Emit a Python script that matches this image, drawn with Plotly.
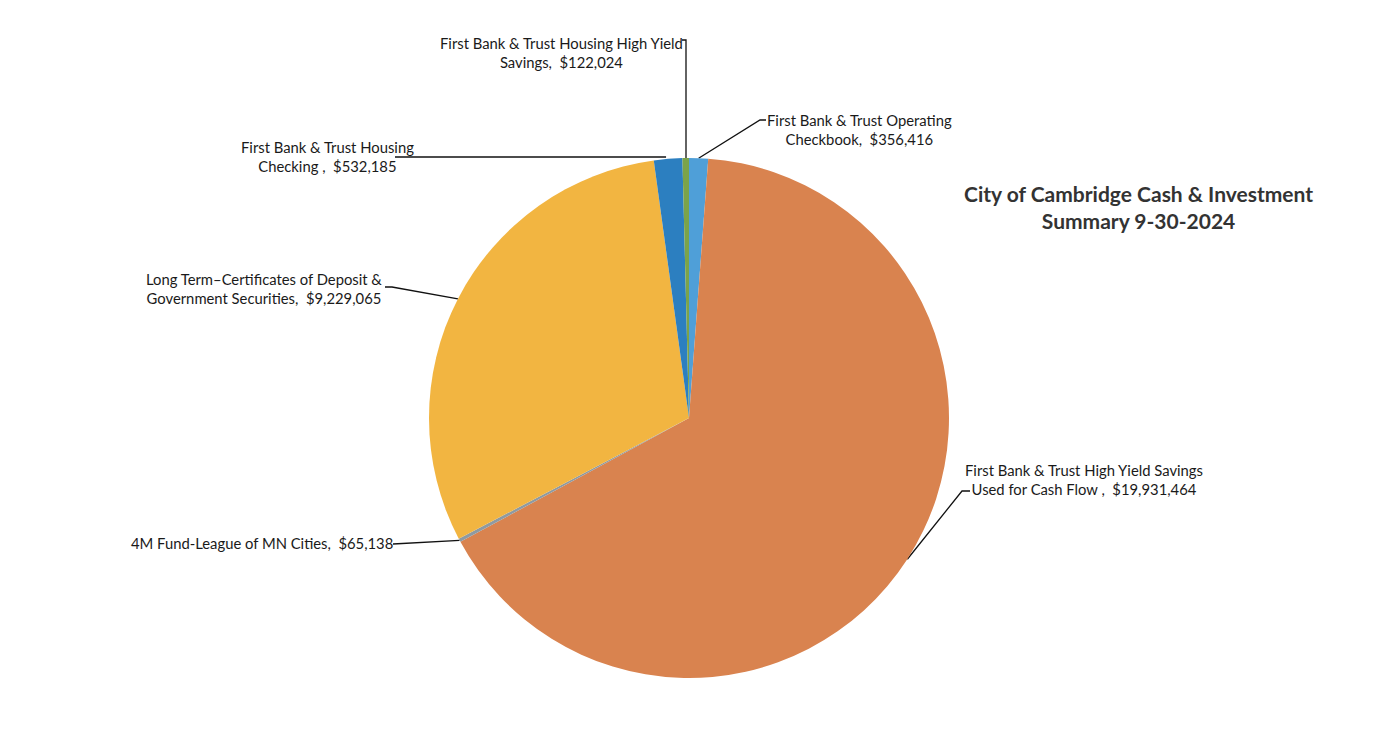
import math
import plotly.graph_objects as go

W, H = 1373, 735

labels = [
    "First Bank & Trust Operating Checkbook",
    "First Bank & Trust High Yield Savings Used for Cash Flow",
    "4M Fund-League of MN Cities",
    "Long Term\u2013Certificates of Deposit & Government Securities",
    "First Bank & Trust Housing Checking",
    "First Bank & Trust Housing High Yield Savings",
]
values = [356416, 19931464, 65138, 9229065, 532185, 122024]
label_text = [
    "First Bank & Trust Operating<br>Checkbook,  $356,416",
    "First Bank & Trust High Yield Savings<br>Used for Cash Flow ,  $19,931,464",
    "4M Fund-League of MN Cities,  $65,138",
    "Long Term\u2013Certificates of Deposit &<br>Government Securities,  $9,229,065",
    "First Bank & Trust Housing<br>Checking ,  $532,185",
    "First Bank & Trust Housing High Yield<br>Savings,  $122,024",
]
colors = ["#4f9fd8", "#d9834f", "#8e9aa2", "#f2b541", "#2c7fc0", "#7ba34a"]

# layout geometry (pixels)
cx, cy, R = 689, 418, 260
# label centre positions and leader-line endpoints near labels
label_pos = [(859, 129), (1084, 479), (262, 543), (264, 288), (327, 156), (561, 52)]
leader_ends = [
    [(766, 120), (760, 120)],
    [(970, 491), (962, 491)],
    [(393, 544)],
    [(385, 287), (392, 287)],
    [(395, 157), (600, 157)],
    [(682, 40), (686, 40)],
]

fig = go.Figure()
fig.add_trace(go.Pie(
    labels=labels, values=values, sort=False, direction="clockwise", rotation=0,
    marker=dict(colors=colors, line=dict(width=0)),
    textinfo="none", showlegend=False,
    domain=dict(x=[(cx - R) / W, (cx + R) / W], y=[(H - cy - R) / H, (H - cy + R) / H]),
))

total = sum(values)
cum = 0
for i, v in enumerate(values):
    mid = (cum + v / 2) / total * 2 * math.pi
    cum += v
    ex = cx + R * math.sin(mid)
    ey = cy - R * math.cos(mid)
    pts = leader_ends[i]
    if i == 4:
        pts = [pts[0], (ex - 2, 157)]
    elif i == 5:
        pts = pts + [(pts[-1][0], ey)]
    else:
        pts = pts + [(ex, ey)]
    fig.add_trace(go.Scatter(
        x=[p[0] for p in pts], y=[p[1] for p in pts], mode="lines",
        line=dict(color="#111111", width=1.3), hoverinfo="skip", showlegend=False,
    ))
    fig.add_annotation(
        x=label_pos[i][0], y=label_pos[i][1], xref="x", yref="y", text=label_text[i],
        showarrow=False, align="center", xanchor="center", yanchor="middle",
        font=dict(family="Lato", size=14.8, color="#1a1a1a"),
    )

fig.add_annotation(
    x=1138, y=207, xref="x", yref="y",
    text="<b>City of Cambridge Cash & Investment<br>Summary 9-30-2024</b>",
    showarrow=False, align="center", xanchor="center", yanchor="middle",
    font=dict(family="Lato", size=21, color="#333333"),
)

fig.update_layout(
    width=W, height=H, margin=dict(l=0, r=0, t=0, b=0),
    paper_bgcolor="white", plot_bgcolor="rgba(0,0,0,0)",
    xaxis=dict(range=[0, W], visible=False, domain=[0, 1], fixedrange=True),
    yaxis=dict(range=[H, 0], visible=False, domain=[0, 1], fixedrange=True),
)

fig.write_html("out.html")
